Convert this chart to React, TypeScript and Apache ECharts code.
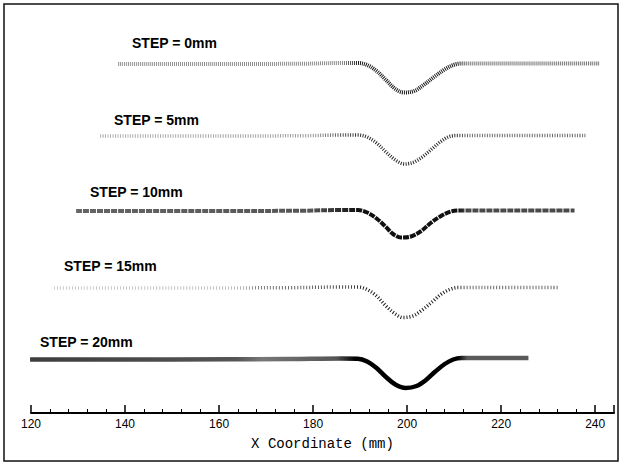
import React, { useEffect, useRef } from "react";
import * as echarts from "echarts";

// X range of the axis (mm)
const xMin = 120;
const xMax = 244;
const tickStep = 20;

// Step labels
const stepLabels = ["STEP = 0mm", "STEP = 5mm", "STEP = 10mm", "STEP = 15mm", "STEP = 20mm"];

// Profiles: [x (mm), vertical position (plot units, offset stacked)]
const step0: [number, number][] = [
  [138.5, 349], [160, 349], [178, 349.3], [186, 350], [189.5, 350], [191.5, 348],
  [193.5, 342], [195.5, 333], [197.5, 324], [199.3, 320.5], [201.5, 322], [203.5, 328],
  [205.7, 336], [207.8, 343], [209.8, 348], [211.5, 349.5], [225, 349.5], [241, 349.5],
];
const step5: [number, number][] = [
  [134.7, 277], [160, 277], [178, 277.3], [186, 278], [189.5, 278], [191.5, 276],
  [193.5, 270], [195.5, 261], [197.5, 253], [199.5, 249], [201.5, 251], [203.5, 257],
  [205.5, 265], [207.3, 272], [209, 276.5], [211, 277.5], [225, 277.5], [238, 277.5],
];
const step10: [number, number][] = [
  [129.6, 202], [160, 202], [178, 202.3], [186, 203], [189.5, 203], [191.5, 200.5],
  [193.5, 194.5], [195.5, 186], [197, 179], [198.7, 175.5], [200.8, 176.5], [203, 182],
  [205, 190], [207.2, 197], [209.3, 201.5], [211, 202.5], [225, 202.5], [235.6, 202.5],
];
const step15: [number, number][] = [
  [124.9, 125], [150, 125], [175, 125.3], [186, 126], [189.5, 126], [191.5, 123.5],
  [193.5, 117], [195.5, 107], [197.5, 99], [199.1, 95.5], [201.2, 97], [203.2, 103],
  [205.3, 111], [207.3, 119], [209.3, 124], [211, 125.5], [222, 125.5], [232.2, 125.5],
];
const step20: [number, number][] = [
  [119.8, 53.5], [150, 53.5], [175, 54], [186, 54.5], [189.5, 54.3], [191.5, 51.5],
  [193.5, 45], [195.5, 36], [197.5, 28.5], [199.7, 25], [202, 27], [204, 33],
  [206, 41.5], [208, 49], [209.8, 53.5], [211.5, 55], [218, 55], [225.8, 55],
];

const seriesData = [step0, step5, step10, step15, step20];

const W = 623;
const H = 465;

function grad(stops: [number, string][]) {
  return new echarts.graphic.LinearGradient(
    0, 0, W, 0,
    stops.map(([offset, color]) => ({ offset, color })),
    true
  );
}

export default function App() {
  const ref = useRef<HTMLDivElement>(null);

  useEffect(() => {
    document.body.style.margin = "0";
    if (!ref.current) return;
    const chart = echarts.init(ref.current, null, { renderer: "svg" });

    const styles = [
      {
        width: 4,
        type: [1, 1] as any,
        color: grad([[0, "#9a9a9a"], [0.55, "#8a8a8a"], [0.575, "#1a1a1a"], [0.735, "#1a1a1a"], [0.75, "#707070"], [1, "#707070"]]),
      },
      {
        width: 3.5,
        type: [1, 1.5] as any,
        color: grad([[0, "#b8b8b8"], [0.5, "#9a9a9a"], [0.575, "#2a2a2a"], [0.73, "#2a2a2a"], [0.75, "#6a6a6a"], [1, "#6a6a6a"]]),
      },
      {
        width: 4,
        type: [6, 1] as any,
        color: grad([[0, "#6a6a6a"], [0.5, "#555"], [0.575, "#111"], [0.735, "#111"], [0.75, "#4a4a4a"], [1, "#4a4a4a"]]),
      },
      {
        width: 3.5,
        type: [1, 2] as any,
        color: grad([[0, "#cfcfcf"], [0.38, "#c0c0c0"], [0.42, "#7a7a7a"], [0.57, "#444"], [0.58, "#1a1a1a"], [0.73, "#1a1a1a"], [0.75, "#666"], [1, "#666"]]),
      },
      {
        width: 4.5,
        type: "solid" as any,
        color: grad([[0, "#3a3a3a"], [0.38, "#555"], [0.42, "#777"], [0.54, "#555"], [0.57, "#000"], [0.735, "#000"], [0.75, "#5a5a5a"], [1, "#5a5a5a"]]),
      },
    ];

    const labelPos: [number, number][] = [
      [132, 44], [114, 121], [90, 193], [64, 267], [40, 343],
    ];

    chart.setOption({
      animation: false,
      grid: { left: 31, right: 9, top: 40, bottom: 52, containLabel: false },
      xAxis: {
        type: "value",
        min: xMin,
        max: xMax,
        interval: tickStep,
        name: "X Coordinate (mm)",
        nameLocation: "middle",
        nameGap: 24,
        nameTextStyle: {
          fontFamily: "Liberation Mono",
          fontSize: 14,
          color: "#000",
        },
        axisLine: { show: true, onZero: false, lineStyle: { color: "#000", width: 2 } },
        axisTick: { show: true, inside: true, length: 8, lineStyle: { color: "#000", width: 1.5 } },
        minorTick: { show: true, splitNumber: 5, length: 4, lineStyle: { color: "#000", width: 1 } },
        axisLabel: {
          fontFamily: "Liberation Sans",
          fontSize: 12,
          color: "#000",
          margin: 5,
          formatter: (v: number) => (v % tickStep === 0 ? String(v) : ""),
        },
        splitLine: { show: false },
        minorSplitLine: { show: false },
      },
      yAxis: {
        type: "value",
        min: 0,
        max: 373,
        show: false,
        splitLine: { show: false },
      },
      graphic: [
        {
          type: "rect",
          shape: { x: 4, y: 4, width: 614, height: 457 },
          style: { fill: "none", stroke: "#111", lineWidth: 1.5 },
          silent: true,
        },
        ...stepLabels.map((t, i) => ({
          type: "text",
          left: labelPos[i][0],
          top: labelPos[i][1] - 8,
          style: {
            text: t,
            font: "bold 14px 'Liberation Sans', Arial, sans-serif",
            fill: "#000",
          },
        })),
      ],
      series: seriesData.map((d, i) => ({
        type: "line",
        data: d,
        smooth: 0.35,
        showSymbol: false,
        symbol: "none",
        lineStyle: styles[i],
        silent: true,
      })),
    });

    return () => chart.dispose();
  }, []);

  return <div ref={ref} style={{ width: W, height: H }} />;
}
